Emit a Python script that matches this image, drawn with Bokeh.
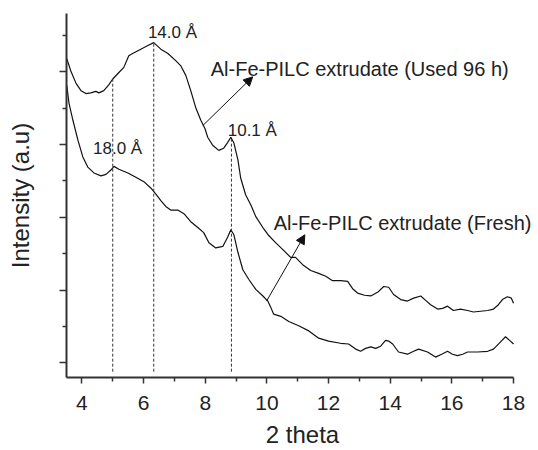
from bokeh.plotting import figure
from bokeh.models import FixedTicker, Label, Arrow, NormalHead
from bokeh.embed import file_html
from bokeh.resources import INLINE

# ---- data ----
used_x = [3.51, 3.64, 3.81, 3.97, 4.13, 4.29, 4.45, 4.55, 4.71, 4.87, 5.00, 5.20, 5.36, 5.52, 5.69, 5.91,
          6.14, 6.33, 6.56, 6.79, 7.05, 7.21, 7.37, 7.53, 7.69, 7.86, 7.99, 8.08, 8.24, 8.44, 8.60, 8.73,
          8.83, 8.93, 9.06, 9.15, 9.31, 9.48, 9.64, 9.87, 10.06, 10.29, 10.51, 10.77, 10.93, 11.16, 11.42,
          11.68, 11.91, 12.13, 12.39, 12.62, 12.78, 12.94, 13.17, 13.37, 13.59, 13.79, 13.95, 14.11, 14.34,
          14.56, 14.76, 14.99, 15.15, 15.31, 15.54, 15.70, 15.86, 16.05, 16.28, 16.51, 16.70, 16.93, 17.16,
          17.35, 17.51, 17.64, 17.80, 17.93, 18.00]
used_y = [4.18, 4.01, 3.84, 3.74, 3.70, 3.71, 3.73, 3.71, 3.74, 3.82, 3.90, 3.99, 4.06, 4.22, 4.26, 4.31,
          4.36, 4.40, 4.31, 4.25, 4.15, 4.08, 3.95, 3.74, 3.51, 3.33, 3.22, 3.10, 2.99, 2.92, 2.95, 3.03,
          3.10, 3.02, 2.79, 2.54, 2.31, 2.17, 2.01, 1.86, 1.75, 1.65, 1.56, 1.45, 1.45, 1.35, 1.27,
          1.23, 1.19, 1.13, 1.13, 1.12, 1.02, 0.96, 0.93, 0.92, 0.97, 1.05, 1.04, 0.94, 0.87,
          0.85, 0.89, 0.92, 0.86, 0.80, 0.74, 0.75, 0.78, 0.72, 0.74, 0.72, 0.70, 0.71, 0.72,
          0.74, 0.80, 0.87, 0.91, 0.89, 0.82]

fresh_x = [3.51, 3.58, 3.71, 3.87, 4.03, 4.19, 4.39, 4.62, 4.78, 4.94, 5.04, 5.20, 5.49, 5.75, 6.01, 6.24,
           6.40, 6.56, 6.72, 6.88, 7.11, 7.31, 7.53, 7.76, 7.95, 8.12, 8.34, 8.57, 8.73, 8.83, 8.93, 9.06,
           9.22, 9.41, 9.64, 9.87, 10.03, 10.12, 10.22, 10.45, 10.71, 11.03, 11.36, 11.68, 12.00, 12.39,
           12.65, 12.88, 13.04, 13.20, 13.37, 13.53, 13.69, 13.85, 13.95, 14.08, 14.27, 14.56, 14.76,
           14.92, 15.21, 15.47, 15.67, 15.86, 16.02, 16.18, 16.35, 16.51, 16.83, 17.16, 17.35, 17.58,
           17.74, 17.90, 18.00]
fresh_y = [3.81, 3.57, 3.33, 3.06, 2.83, 2.69, 2.61, 2.57, 2.59, 2.65, 2.70, 2.66, 2.61, 2.55, 2.49, 2.40,
           2.32, 2.23, 2.15, 2.10, 2.10, 2.05, 1.94, 1.86, 1.79, 1.65, 1.58, 1.60, 1.73, 1.83, 1.76, 1.52,
           1.28, 1.15, 1.01, 0.92, 0.85, 0.77, 0.67, 0.64, 0.57, 0.51, 0.44, 0.34, 0.30, 0.27,
           0.26, 0.19, 0.16, 0.20, 0.22, 0.20, 0.23, 0.31, 0.30, 0.26, 0.15, 0.12, 0.16,
           0.19, 0.15, 0.08, 0.12, 0.16, 0.12, 0.10, 0.12, 0.15, 0.15, 0.16, 0.19, 0.29,
           0.36, 0.30, 0.26]

peak_x = [5.00, 6.33, 8.85]
peak_top = [3.90, 4.40, 3.10]
peak_bottom = [-0.12, -0.12, -0.12]
peak_labels = ["18.0 Å", "14.0 Å", "10.1 Å"]
peak_label_x = [4.36, 6.14, 8.73]
peak_label_y = [2.94, 4.54, 3.19]

series_labels = ["Al-Fe-PILC extrudate (Used 96 h)", "Al-Fe-PILC extrudate (Fresh)"]
series_label_x = [8.18, 10.22]
series_label_y = [4.04, 1.92]
arrow_start_x = [7.92, 9.99]
arrow_start_y = [3.26, 0.85]
arrow_end_x = [9.54, 11.23]
arrow_end_y = [3.93, 1.76]

x_ticks = [4, 6, 8, 10, 12, 14, 16, 18]
x_minor = [5, 7, 9, 11, 13, 15, 17]
y_ticks = [0, 1, 2, 3, 4]
y_minor = [0.5, 1.5, 2.5, 3.5, 4.5]

FONT = "Liberation Sans"
TXT = "#222222"
AX = "#333333"

# frame spans x 3.5..18 over 447.5 px; extra room on the right lets labels overflow past 18
px_per_unit = 447.5 / 14.5
x_end = 18 + 25 / px_per_unit

p = figure(width=538, height=450, x_range=(3.5, x_end), y_range=(-0.2, 4.8),
           output_backend="svg", toolbar_location=None,
           min_border_left=66, min_border_right=0, min_border_top=13, min_border_bottom=71)
p.outline_line_color = None
p.xgrid.visible = False
p.ygrid.visible = False
p.background_fill_color = "white"
p.border_fill_color = "white"

# curves
p.line(used_x, used_y, line_color="#111111", line_width=1.2)
p.line(fresh_x, fresh_y, line_color="#111111", line_width=1.2)

# dashed guide lines
p.segment(x0=peak_x, y0=peak_bottom, x1=peak_x, y1=peak_top,
          line_color="#333333", line_width=1, line_dash="3 2")

for t, lx, ly in zip(peak_labels, peak_label_x, peak_label_y):
    p.add_layout(Label(x=lx, y=ly, text=t, text_font=FONT, text_font_size="17px",
                       text_color=TXT, text_align="left", text_baseline="alphabetic"))

for t, lx, ly in zip(series_labels, series_label_x, series_label_y):
    p.add_layout(Label(x=lx, y=ly, text=t, text_font=FONT, text_font_size="20px",
                       text_color=TXT, text_align="left", text_baseline="alphabetic"))

for sx, sy, ex, ey in zip(arrow_start_x, arrow_start_y, arrow_end_x, arrow_end_y):
    p.add_layout(Arrow(x_start=sx, y_start=sy, x_end=ex, y_end=ey, line_color="#111111", line_width=1,
                       end=NormalHead(size=9, fill_color="#111111", line_color="#111111")))

# axes
p.xaxis.ticker = FixedTicker(ticks=x_ticks, minor_ticks=x_minor)
p.yaxis.ticker = FixedTicker(ticks=y_ticks, minor_ticks=y_minor)
p.xaxis.bounds = (3.5, 18)
for ax in (p.xaxis[0], p.yaxis[0]):
    ax.axis_line_color = AX
    ax.axis_line_width = 2
    ax.major_tick_line_color = AX
    ax.minor_tick_line_color = AX
    ax.major_tick_line_width = 1.5
    ax.minor_tick_line_width = 1.5
    ax.major_tick_in = 0
    ax.minor_tick_in = 0
    ax.axis_label_text_font = FONT
    ax.axis_label_text_font_style = "normal"
    ax.axis_label_text_font_size = "24px"
    ax.axis_label_text_color = TXT
    ax.major_label_text_font = FONT
    ax.major_label_text_color = TXT

p.xaxis.axis_label = "2 theta"
p.xaxis.major_tick_out = 6
p.xaxis.minor_tick_out = 4
p.xaxis.major_label_text_font_size = "21px"
p.xaxis.major_label_standoff = 12
p.xaxis.axis_label_standoff = 8

p.yaxis.axis_label = "Intensity (a.u)"
p.yaxis.major_tick_out = 7
p.yaxis.minor_tick_out = 4
p.yaxis.major_label_overrides = {t: "" for t in y_ticks}
p.yaxis.major_label_standoff = 0
p.yaxis.axis_label_standoff = 26

open("out.html", "w").write(file_html(p, INLINE))
